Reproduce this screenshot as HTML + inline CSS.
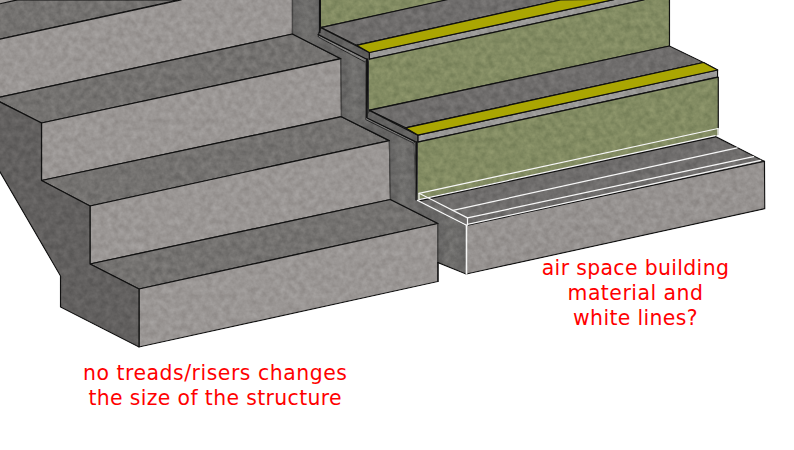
<!DOCTYPE html>
<html><head><meta charset="utf-8"><title>stairs</title>
<style>
html,body{margin:0;padding:0;background:#fff;}
body{width:794px;height:450px;overflow:hidden;position:relative;font-family:"DejaVu Sans","Liberation Sans",sans-serif;}
svg{position:absolute;left:0;top:0;display:block}
.t{position:absolute;color:#f00;font-size:20.4px;line-height:25px;text-align:center;white-space:nowrap}
</style></head><body>
<svg width="794" height="450" viewBox="0 0 794 450">
<defs>
<linearGradient id="gw" gradientUnits="userSpaceOnUse" x1="292.5" y1="0" x2="341.2" y2="0" spreadMethod="repeat">
<stop offset="0" stop-color="#646362"/><stop offset="0.27" stop-color="#72716f"/><stop offset="0.54" stop-color="#666564"/><stop offset="1" stop-color="#646362"/>
</linearGradient>
<linearGradient id="gg" gradientUnits="userSpaceOnUse" x1="0" y1="0" x2="0" y2="450">
<stop offset="0" stop-color="#828b62"/><stop offset="1" stop-color="#828b62"/>
</linearGradient>
<filter id="tex" x="0" y="0" width="794" height="450" filterUnits="userSpaceOnUse" color-interpolation-filters="sRGB">
<feTurbulence type="fractalNoise" baseFrequency="0.16" numOctaves="3" seed="7" result="n"/>
<feColorMatrix in="n" type="matrix" values="0.17 0 0 0 0.415  0.17 0 0 0 0.415  0.17 0 0 0 0.415  0 0 0 0 1" result="g"/>
<feBlend in="g" in2="SourceGraphic" mode="overlay" result="b"/>
<feComposite in="b" in2="SourceGraphic" operator="in"/>
</filter>
</defs>
<g filter="url(#tex)">
<polygon points="-2.0,-2.0 20.0,-2.0 17.6,0.0 -2.0,4.2" fill="#9a9694" stroke="none" />
<polygon points="-2.0,4.2 17.6,-0.2 181.0,-0.5 -2.0,39.5" fill="#747270" stroke="#111" stroke-width="1.2" stroke-linejoin="round" />
<polygon points="-2.0,39.5 181.0,0.0 181.0,-2.0 292.5,-2.0 292.5,34.0 -2.0,97.5" fill="#9a9694" stroke="#111" stroke-width="1.2" stroke-linejoin="round" />
<polygon points="-2.0,97.5 292.5,34.0 341.0,58.7 41.5,123.0 -2.0,101.0" fill="#747270" stroke="#111" stroke-width="1.2" stroke-linejoin="round" />
<polygon points="41.5,123.0 341.0,58.7 341.5,116.7 41.5,180.5" fill="#9a9694" stroke="#111" stroke-width="1.2" stroke-linejoin="round" />
<polygon points="41.5,180.5 341.5,116.7 389.4,140.6 90.0,206.0" fill="#747270" stroke="#111" stroke-width="1.2" stroke-linejoin="round" />
<polygon points="90.0,206.0 389.4,140.6 390.5,199.5 90.0,264.0" fill="#9a9694" stroke="#111" stroke-width="1.2" stroke-linejoin="round" />
<polygon points="90.0,264.0 390.5,199.5 438.0,223.5 139.0,289.0" fill="#747270" stroke="#111" stroke-width="1.2" stroke-linejoin="round" />
<polygon points="139.0,289.0 438.0,223.5 438.0,281.5 139.0,347.0" fill="#9a9694" stroke="#111" stroke-width="1.2" stroke-linejoin="round" />
<polygon points="-2.0,101.0 41.5,123.0 41.5,180.5 90.0,206.0 90.0,264.0 139.0,289.0 139.0,347.0 60.5,307.0 60.5,276.0 -2.0,168.5" fill="#62605f" stroke="#111" stroke-width="1.2" stroke-linejoin="round" />
<polygon points="292.5,-2.0 292.5,34.0 341.0,58.7 341.5,116.7 389.4,140.6 390.5,199.5 438.0,223.5 438.0,262.6 466.0,274.0 466.5,225.4 417.0,200.2 414.0,143.4 365.6,119.5 365.6,62.3 318.3,37.0 318.3,-2.0" fill="url(#gw)" stroke="none" />
<polyline points="292.5,-2.0 292.5,34.0" fill="none" stroke="#474645" stroke-width="1.3" stroke-linecap="butt" stroke-linejoin="round"/>
<polyline points="341.0,58.7 341.5,116.7" fill="none" stroke="#474645" stroke-width="1.3" stroke-linecap="butt" stroke-linejoin="round"/>
<polyline points="389.4,140.6 390.5,199.5" fill="none" stroke="#474645" stroke-width="1.3" stroke-linecap="butt" stroke-linejoin="round"/>
<polyline points="438.0,223.5 438.0,262.6" fill="none" stroke="#474645" stroke-width="1.3" stroke-linecap="butt" stroke-linejoin="round"/>
<polyline points="292.5,34.0 341.0,58.7" fill="none" stroke="#111" stroke-width="1.2" stroke-linecap="round" stroke-linejoin="round"/>
<polyline points="341.5,116.7 389.4,140.6" fill="none" stroke="#111" stroke-width="1.2" stroke-linecap="round" stroke-linejoin="round"/>
<polyline points="390.5,199.5 438.0,223.5" fill="none" stroke="#111" stroke-width="1.2" stroke-linecap="round" stroke-linejoin="round"/>
<polyline points="438.0,262.6 466.0,274.0" fill="none" stroke="#111" stroke-width="1.2" stroke-linecap="round" stroke-linejoin="round"/>
<polyline points="438.0,262.6 438.0,281.5" fill="none" stroke="#111" stroke-width="1.2" stroke-linecap="round" stroke-linejoin="round"/>
<polygon points="320.4,-2.0 320.4,27.6 448.0,0.0 448.0,-2.0" fill="url(#gg)" stroke="#111" stroke-width="1.2" stroke-linejoin="round" />
<polygon points="320.9,27.6 448.0,-0.5 566.0,-1.0 356.6,45.3" fill="#6f6d6c" stroke="#111" stroke-width="1.2" stroke-linejoin="round" />
<polygon points="356.6,45.3 560.5,0.0 616.5,-1.0 369.3,52.5" fill="#aaa602" stroke="#111" stroke-width="1.2" stroke-linejoin="round" />
<polygon points="369.3,52.5 616.5,-1.0 648.0,-1.0 369.3,59.3" fill="#999896" stroke="#111" stroke-width="1.2" stroke-linejoin="round" />
<polygon points="368.4,59.3 644.0,0.0 644.0,-2.0 669.5,-2.0 669.5,46.0 368.4,110.4" fill="url(#gg)" stroke="#111" stroke-width="1.2" stroke-linejoin="round" />
<polygon points="369.3,110.4 669.5,46.0 703.6,62.5 405.8,127.9" fill="#6f6d6c" stroke="#111" stroke-width="1.2" stroke-linejoin="round" />
<polygon points="405.8,127.9 703.6,62.5 717.6,70.0 417.8,135.1" fill="#aaa602" stroke="#111" stroke-width="1.2" stroke-linejoin="round" />
<polygon points="417.8,135.1 717.6,70.0 717.6,77.2 417.8,142.2" fill="#999896" stroke="#111" stroke-width="1.2" stroke-linejoin="round" />
<polygon points="417.2,142.2 718.3,77.2 718.3,134.6 715.2,136.4 417.2,200.2" fill="url(#gg)" stroke="none" />
<polyline points="417.8,142.2 718.3,77.2 718.3,127.6" fill="none" stroke="#111" stroke-width="1.2" stroke-linecap="round" stroke-linejoin="round"/>
<polygon points="417.5,200.2 715.2,136.4 764.5,161.4 466.5,225.4" fill="#6f6d6c" stroke="#111" stroke-width="1.2" stroke-linejoin="round" />
<polygon points="466.5,225.4 764.5,161.4 764.8,208.7 466.5,274.0" fill="#969290" stroke="#111" stroke-width="1.2" stroke-linejoin="round" />
<polygon points="318.3,37.0 365.6,62.3 366.8,59.2 318.3,34.6" fill="#807f7e" stroke="#111" stroke-width="0.9" stroke-linejoin="round" />
<polygon points="320.9,27.6 369.3,52.5 369.3,60.0 367.2,62.9 365.6,62.3 366.8,59.2 318.3,34.6" fill="#626160" stroke="none" />
<polyline points="318.3,34.6 320.9,27.6 369.3,52.5" fill="none" stroke="#111" stroke-width="1.2" stroke-linecap="round" stroke-linejoin="round"/>
<polyline points="318.3,34.6 366.8,59.2" fill="none" stroke="#111" stroke-width="1.2" stroke-linecap="round" stroke-linejoin="round"/>
<polygon points="365.6,119.5 414.0,143.4 415.3,141.6 365.6,117.2" fill="#807f7e" stroke="#111" stroke-width="0.9" stroke-linejoin="round" />
<polygon points="369.3,110.4 417.8,135.1 417.8,142.4 415.6,144.0 414.0,143.4 415.3,141.6 365.6,117.2" fill="#626160" stroke="none" />
<polyline points="365.6,117.2 369.3,110.4 417.8,135.1" fill="none" stroke="#111" stroke-width="1.2" stroke-linecap="round" stroke-linejoin="round"/>
<polyline points="365.6,117.2 415.3,141.6" fill="none" stroke="#111" stroke-width="1.2" stroke-linecap="round" stroke-linejoin="round"/>
<polygon points="414.0,143.4 417.8,142.0 417.8,200.2 417.0,200.2" fill="#626160" stroke="none" />
<polygon points="365.6,62.3 368.4,59.5 368.4,117.0 365.6,119.5" fill="#626160" stroke="none" />
<polyline points="319.4,-2.0 319.4,33.0" fill="none" stroke="#111" stroke-width="2.2" stroke-linecap="butt" stroke-linejoin="round"/>
<polyline points="367.2,58.6 366.6,118.0" fill="none" stroke="#111" stroke-width="2.2" stroke-linecap="butt" stroke-linejoin="round"/>
<polyline points="369.3,52.5 369.3,59.5" fill="none" stroke="#111" stroke-width="1.2" stroke-linecap="butt" stroke-linejoin="round"/>
<polyline points="416.6,141.2 416.2,200.2" fill="none" stroke="#111" stroke-width="2.2" stroke-linecap="butt" stroke-linejoin="round"/>
<polyline points="417.8,135.1 417.8,142.4" fill="none" stroke="#111" stroke-width="1.2" stroke-linecap="butt" stroke-linejoin="round"/>
<polyline points="414.0,143.4 416.0,200.0" fill="none" stroke="#474645" stroke-width="1.0" stroke-linecap="butt" stroke-linejoin="round"/>
<polyline points="365.6,62.3 365.6,118.0" fill="none" stroke="#474645" stroke-width="1.0" stroke-linecap="butt" stroke-linejoin="round"/>
<polyline points="419.0,200.5 419.0,193.3 718.0,128.5 718.0,134.5" fill="none" stroke="#f7f7f7" stroke-width="1.2" stroke-linecap="round" stroke-linejoin="round"/>
<polyline points="419.0,200.9 715.2,136.9" fill="none" stroke="#111" stroke-width="1.2" stroke-linecap="round" stroke-linejoin="round"/>
<polyline points="419.0,199.7 715.2,135.7" fill="none" stroke="#f7f7f7" stroke-width="1.2" stroke-linecap="round" stroke-linejoin="round"/>
<polyline points="419.0,193.3 429.0,198.3 467.5,217.9 467.5,225.0" fill="none" stroke="#f7f7f7" stroke-width="1.2" stroke-linecap="round" stroke-linejoin="round"/>
<polyline points="417.5,200.4 466.8,225.4" fill="none" stroke="#f7f7f7" stroke-width="1.2" stroke-linecap="round" stroke-linejoin="round"/>
<polyline points="453.0,210.3 737.2,147.8" fill="none" stroke="#f7f7f7" stroke-width="1.2" stroke-linecap="round" stroke-linejoin="round"/>
<polyline points="467.5,217.9 753.6,156.6" fill="none" stroke="#f7f7f7" stroke-width="1.2" stroke-linecap="round" stroke-linejoin="round"/>
<polyline points="467.5,224.4 760.5,160.4" fill="none" stroke="#f7f7f7" stroke-width="1.2" stroke-linecap="round" stroke-linejoin="round"/>
<polyline points="466.5,225.4 466.5,274.0" fill="none" stroke="#f7f7f7" stroke-width="1.7" stroke-linecap="round" stroke-linejoin="round"/>
</g>
<polygon points="356.6,45.3 560.5,0.0 616.5,-1.0 369.3,52.5" fill="#aaa602" stroke="#111" stroke-width="1.2" stroke-linejoin="round" />
<polygon points="405.8,127.9 703.6,62.5 717.6,70.0 417.8,135.1" fill="#aaa602" stroke="#111" stroke-width="1.2" stroke-linejoin="round" />
</svg>
<div class="t" style="left:535.5px;top:256px;width:200px"><span style="letter-spacing:0.36px">air space building</span><br><span style="letter-spacing:0.5px">material and</span><br><span style="letter-spacing:0.36px">white lines?</span></div>
<div class="t" style="left:65.2px;top:360.6px;width:300px"><span style="letter-spacing:0.53px">no treads/risers changes</span><br><span style="letter-spacing:0.36px">the size of the structure</span></div>
</body></html>
